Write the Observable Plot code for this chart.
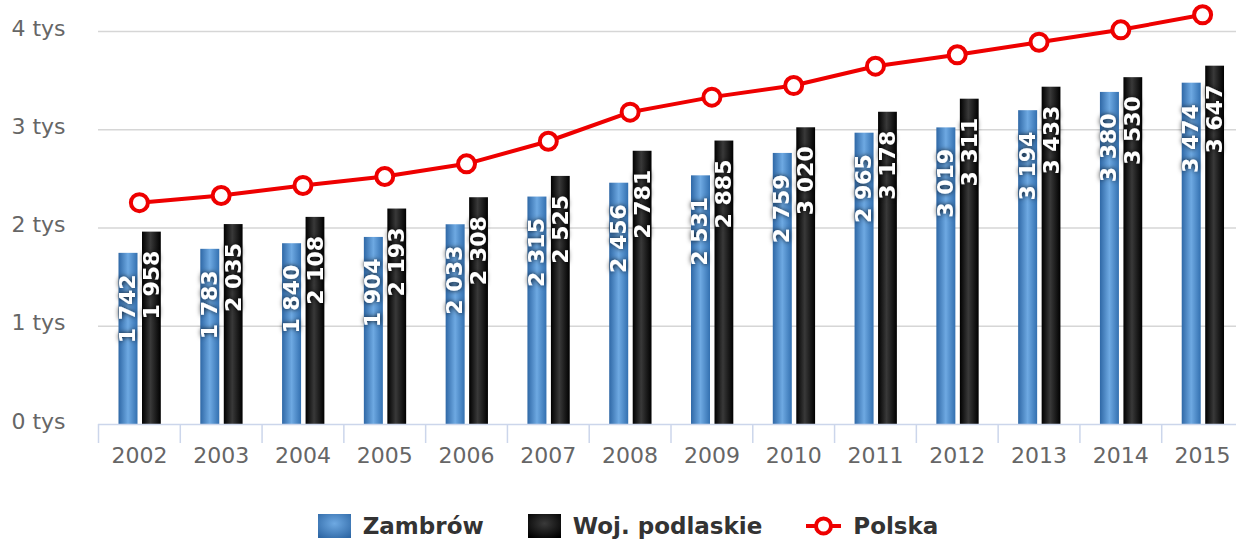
<!DOCTYPE html>
<html>
<head>
<meta charset="utf-8">
<script src="https://cdn.jsdelivr.net/npm/d3@7"></script>
<script src="https://cdn.jsdelivr.net/npm/@observablehq/plot@0.6"></script>
<style>
  html, body { margin: 0; padding: 0; background: #fff; overflow: hidden; }
  body { width: 1236px; height: 540px; font-family: "DejaVu Sans", sans-serif; }
  #legend { display: flex; justify-content: center; align-items: center; height: 24px; margin-top: 24px; padding-left: 20px;
            font: bold 23px "DejaVu Sans", sans-serif; color: #333; }
  .item { display: flex; align-items: center; margin: 0 22px; }
  .sq { width: 33px; height: 24px; margin-right: 12px; }
</style>
</head>
<body>
<svg width="0" height="0" style="position:absolute">
  <defs>
    <linearGradient id="gBlue" x1="0" x2="1" y1="0" y2="0">
      <stop offset="0%" stop-color="#2f68a6"/>
      <stop offset="50%" stop-color="#6ea9e2"/>
      <stop offset="100%" stop-color="#3370b0"/>
    </linearGradient>
    <linearGradient id="gBlack" x1="0" x2="1" y1="0" y2="0">
      <stop offset="0%" stop-color="#000"/>
      <stop offset="45%" stop-color="#393939"/>
      <stop offset="100%" stop-color="#000"/>
    </linearGradient>
    <radialGradient id="gBlueL" cx="0.5" cy="0.4" r="0.7">
      <stop offset="0%" stop-color="#6ea9e2"/>
      <stop offset="100%" stop-color="#2f68a6"/>
    </radialGradient>
    <radialGradient id="gBlackL" cx="0.5" cy="0.4" r="0.7">
      <stop offset="0%" stop-color="#3a3a3a"/>
      <stop offset="100%" stop-color="#000"/>
    </radialGradient>
    <filter id="shadow" x="-40%" y="-40%" width="180%" height="180%">
      <feGaussianBlur in="SourceAlpha" stdDeviation="2.5" result="b"/>
      <feFlood flood-color="#000" flood-opacity="0.85"/>
      <feComposite in2="b" operator="in" result="s"/>
      <feMerge><feMergeNode in="s"/><feMergeNode in="SourceGraphic"/></feMerge>
    </filter>
  </defs>
</svg>
<div id="chart"></div>
<div id="legend">
  <div class="item"><svg class="sq"><rect width="33" height="24" fill="url(#gBlueL)"/></svg>Zambrów</div>
  <div class="item"><svg class="sq"><rect width="33" height="24" fill="url(#gBlackL)"/></svg>Woj. podlaskie</div>
  <div class="item"><svg width="35" height="24" style="margin-right:12px"><line x1="0" x2="35" y1="12" y2="12" stroke="#ee0000" stroke-width="4"/><circle cx="17.5" cy="12" r="7.5" fill="#fff" stroke="#ee0000" stroke-width="4"/></svg>Polska</div>
</div>
<script>
const years = ["2002","2003","2004","2005","2006","2007","2008","2009","2010","2011","2012","2013","2014","2015"];
const zambrow = [1742,1783,1840,1904,2033,2315,2456,2531,2759,2965,3019,3194,3380,3474];
const podlaskie = [1958,2035,2108,2193,2308,2525,2781,2885,3020,3178,3311,3433,3530,3647];
const polska = [2258,2331,2433,2524,2653,2883,3179,3332,3450,3647,3763,3891,4017,4170];
const yTicks = [0,1000,2000,3000,4000];

const rows = years.map((year, i) => ({year, zambrow: zambrow[i], podlaskie: podlaskie[i], polska: polska[i]}));
const fmt = v => d3.format(",")(v).replace(/,/g, " ");
const red = "#ee0000";
const bw = (1243 - 98) / years.length;

const chart = Plot.plot({
  width: 1236,
  height: 490,
  marginLeft: 98,
  marginRight: -7,
  marginTop: 31,
  marginBottom: 66,
  style: {fontFamily: "DejaVu Sans, sans-serif", fontSize: "22px", background: "#fff", overflow: "visible"},
  x: {type: "band", domain: years, padding: 0, round: false, label: null},
  y: {domain: [0, 4000], label: null},
  marks: [
    Plot.ruleY(yTicks.filter(d => d > 0), {stroke: "#d6d6d6", strokeWidth: 1.5}),
    Plot.axisY({ticks: yTicks, tickSize: 0, tickPadding: 33, tickFormat: d => (d / 1000) + " tys", fill: "#666", dy: -3, label: null}),
    Plot.barY(rows, {x: "year", y: "zambrow", fill: "url(#gBlue)", insetLeft: 20.5, insetRight: bw - 39.5}),
    Plot.barY(rows, {x: "year", y: "podlaskie", fill: "url(#gBlack)", insetLeft: 44, insetRight: bw - 62.8}),
    Plot.ruleY([0], {stroke: "#ccd6eb", strokeWidth: 1.5}),
    Plot.axisX({tickSize: 0, tickPadding: 23, fill: "#666", label: null}),
    Plot.axisX({tickSize: 19, stroke: "#ccd6eb", strokeWidth: 1.5, text: null, dx: -bw / 2, label: null}),
    Plot.text(rows, {x: "year", y: "zambrow", text: d => fmt(d.zambrow), rotate: -90, textAnchor: "end", dx: -11.5, dy: 21, fill: "#fff", fontWeight: "bold", fontSize: 22}),
    Plot.text(rows, {x: "year", y: "podlaskie", text: d => fmt(d.podlaskie), rotate: -90, textAnchor: "end", dx: 12.5, dy: 18.5, fill: "#fff", fontWeight: "bold", fontSize: 22}),
    Plot.line(rows, {x: "year", y: "polska", stroke: red, strokeWidth: 4}),
    Plot.dot(rows, {x: "year", y: "polska", r: 8.5, fill: "#fff", stroke: red, strokeWidth: 4})
  ]
});
d3.select(chart).selectAll('g[aria-label="text"]').attr("filter", "url(#shadow)");
document.getElementById("chart").appendChild(chart);
</script>
</body>
</html>
